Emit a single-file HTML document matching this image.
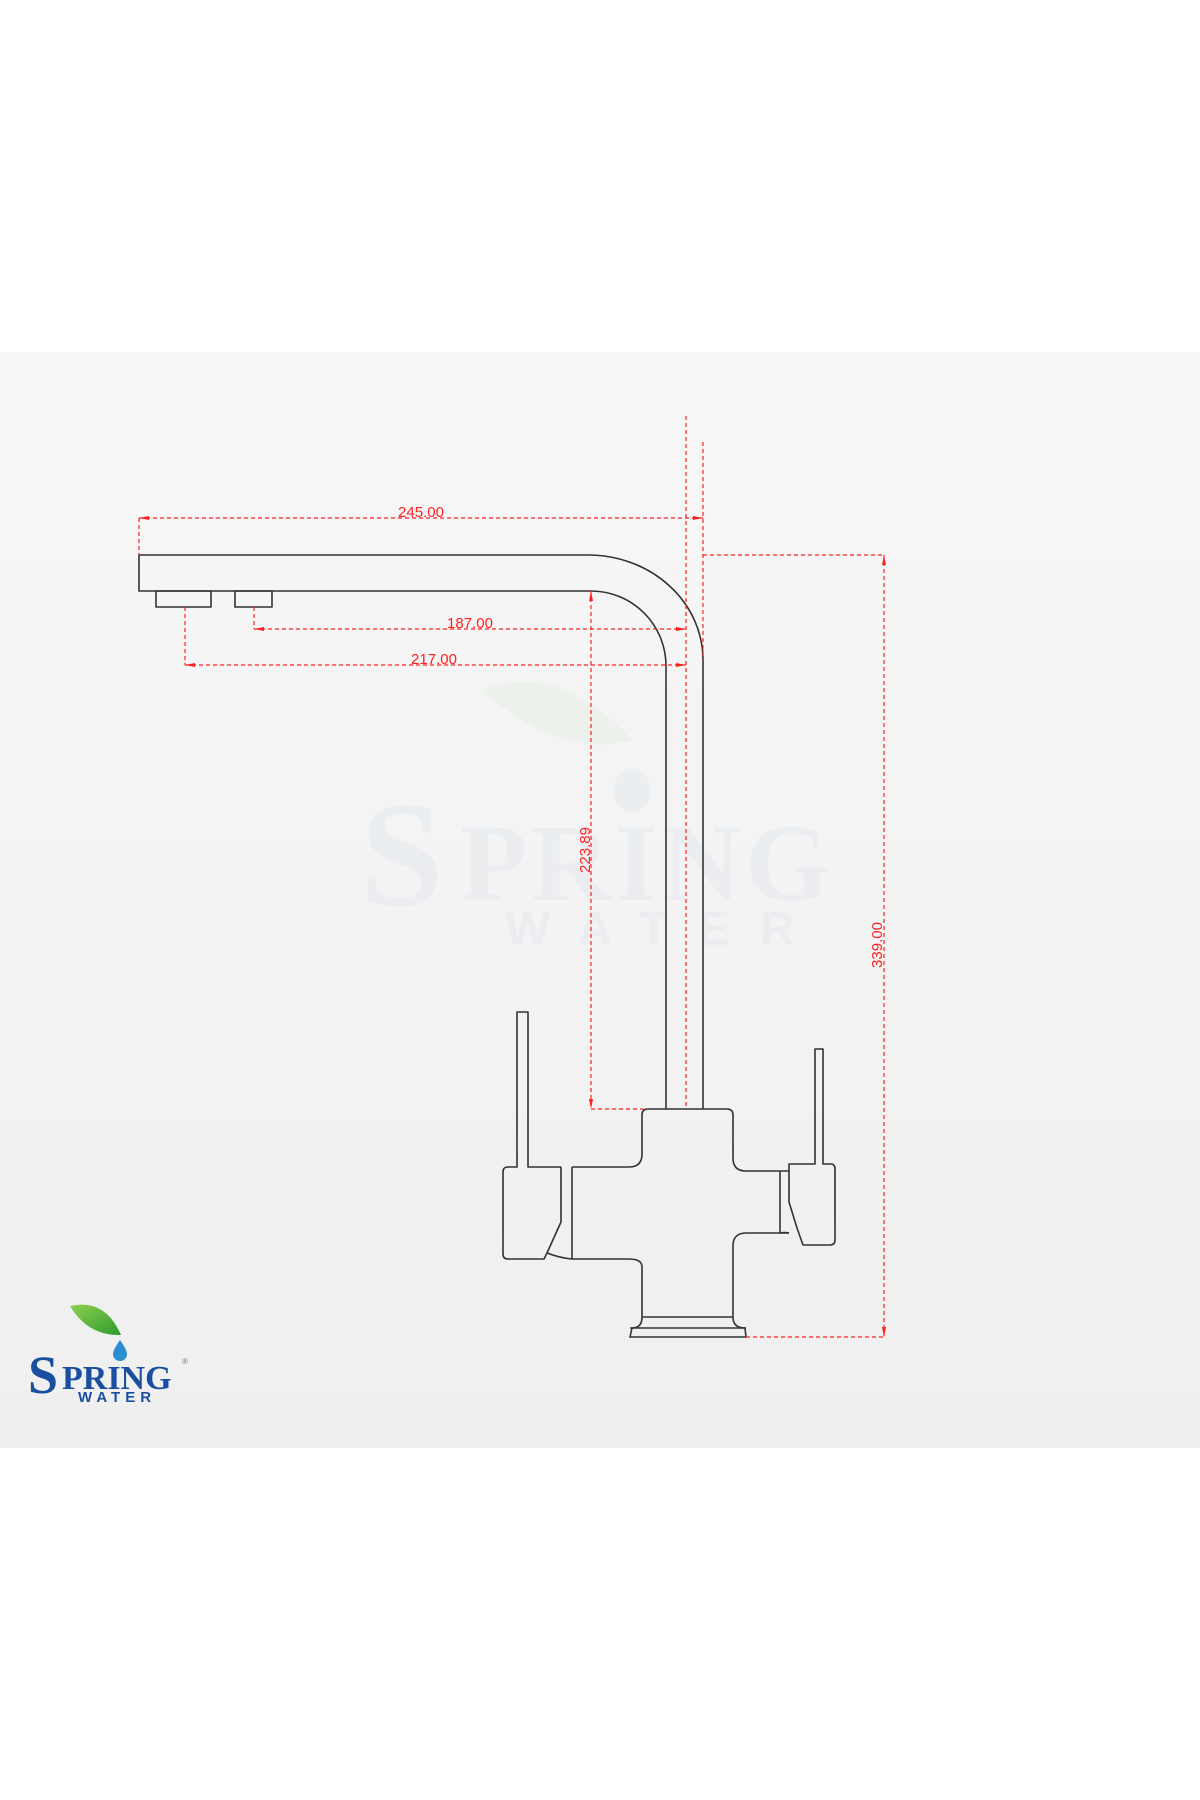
<!DOCTYPE html>
<html><head><meta charset="utf-8"><style>
html,body{margin:0;padding:0;background:#fff;}
svg{display:block;}
</style></head><body>
<svg width="1200" height="1800" viewBox="0 0 1200 1800" xmlns="http://www.w3.org/2000/svg">
<defs>
<linearGradient id="bg" x1="0" y1="0" x2="0" y2="1">
<stop offset="0" stop-color="#f7f7f7"/><stop offset="1" stop-color="#efefef"/>
</linearGradient>
<linearGradient id="leaf" x1="0" y1="0" x2="1" y2="1">
<stop offset="0" stop-color="#8fd14f"/><stop offset="1" stop-color="#2e9a2e"/>
</linearGradient>
</defs>
<rect x="0" y="352" width="1200" height="1096" fill="url(#bg)"/>

<!-- watermark -->
<g opacity="0.5">
<path d="M482 690 Q560 660 632 740 Q560 760 482 690Z" fill="#e6eee2"/>
<ellipse cx="632" cy="790" rx="18" ry="22" fill="#e3e9ef"/>
<text x="360" y="905" font-family="Liberation Serif,serif" font-weight="bold" font-size="150" fill="#e4e9ef">S</text>
<text x="460" y="900" font-family="Liberation Serif,serif" font-weight="bold" font-size="110" fill="#e4e9ef" letter-spacing="4">PRING</text>
<text x="505" y="945" font-family="Liberation Sans,sans-serif" font-weight="bold" font-size="48" fill="#e4e9ef" letter-spacing="30">WATER</text>
</g>

<!-- faucet -->
<g fill="none" stroke="#333" stroke-width="1.6" stroke-linejoin="round">
<path d="M588 555 L139 555 L139 591 L591 591"/>
<path d="M588 555 A115 105 0 0 1 703 660 L703 1109"/>
<path d="M591 591 A75 75 0 0 1 666 666 L666 1109"/>
<rect x="156" y="591" width="55" height="16"/>
<rect x="235" y="591" width="37" height="16"/>
<!-- body -->
<path d="M648 1109 L727 1109 Q733 1109 733 1115 L733 1158 Q733 1171 746 1171 L789 1171"/>
<path d="M789 1233 L746 1233 Q733 1233 733 1246 L733 1317"/>
<path d="M648 1109 Q642 1109 642 1115 L642 1154 Q642 1167 629 1167 L572 1167"/>
<path d="M572 1259 L629 1259 Q642 1259 642 1267 L642 1317"/>
<line x1="642" y1="1317" x2="733" y2="1317"/>
<path d="M642 1317 Q642 1328 632 1328 L630 1337 L746 1337 L745 1328 Q733 1328 733 1317"/>
<line x1="630" y1="1328" x2="746" y2="1328"/>
<!-- left handle -->
<line x1="572" y1="1167" x2="572" y2="1259"/>
<path d="M561 1167 L561 1222 L547 1253 L544 1259 L508 1259 Q503 1259 503 1254 L503 1172 Q503 1167 508 1167 L517 1167 L517 1012 L528 1012 L528 1167 L561 1167"/>
<path d="M547 1253 Q560 1258 572 1259"/>
<!-- right handle -->
<line x1="780" y1="1171" x2="780" y2="1233"/>
<path d="M789 1233 Q785 1232 780 1233"/>
<path d="M789 1164 L815 1164 L815 1049 L823 1049 L823 1164 L831 1164 Q835 1164 835 1169 L835 1240 Q835 1245 830 1245 L803 1245 L797 1228 L789 1202 Z"/>
</g>

<!-- dimensions -->
<g fill="none" stroke="#ff2020" stroke-width="1.2" stroke-dasharray="4,3">
<line x1="139" y1="518" x2="703" y2="518"/>
<line x1="139" y1="518" x2="139" y2="555"/>
<line x1="686" y1="416" x2="686" y2="1109"/>
<line x1="703" y1="442" x2="703" y2="660"/>
<line x1="254" y1="607" x2="254" y2="629"/>
<line x1="254" y1="629" x2="686" y2="629"/>
<line x1="185" y1="607" x2="185" y2="665"/>
<line x1="185" y1="665" x2="686" y2="665"/>
<line x1="591" y1="591" x2="591" y2="1109"/>
<line x1="591" y1="1109" x2="648" y2="1109"/>
<line x1="703" y1="555" x2="884" y2="555"/>
<line x1="884" y1="555" x2="884" y2="1337"/>
<line x1="746" y1="1337" x2="884" y2="1337"/>
</g>
<g fill="#ff2020">
<path d="M139 518 l10 -2 v4z"/><path d="M703 518 l-10 -2 v4z"/>
<path d="M254 629 l10 -2 v4z"/><path d="M686 629 l-10 -2 v4z"/>
<path d="M185 665 l10 -2 v4z"/><path d="M686 665 l-10 -2 v4z"/>
<path d="M591 591 l-2 10 h4z"/><path d="M591 1109 l-2 -10 h4z"/>
<path d="M884 555 l-2 10 h4z"/><path d="M884 1337 l-2 -10 h4z"/>
</g>
<g font-family="Liberation Sans Narrow,Liberation Sans,sans-serif" font-size="15" fill="#ff2020" text-anchor="middle">
<text x="421" y="517">245.00</text>
<text x="470" y="628">187.00</text>
<text x="434" y="664">217.00</text>
<text transform="translate(590 850) rotate(-90)">223.89</text>
<text transform="translate(882 945) rotate(-90)">339.00</text>
</g>

<!-- logo -->
<path d="M70 1306 Q105 1298 121 1335 Q88 1336 70 1306Z" fill="url(#leaf)"/>
<path d="M120 1340 Q113 1350 113 1354 a7 7 0 0 0 14 0 Q127 1350 120 1340Z" fill="#2a8fd0"/>
<text x="28" y="1393" font-family="Liberation Serif,serif" font-weight="bold" font-size="54" fill="#1a4fa0">S</text>
<text x="62" y="1389" font-family="Liberation Serif,serif" font-weight="bold" font-size="34" fill="#1a4fa0">PRING</text>
<text x="78" y="1402" font-family="Liberation Sans,sans-serif" font-weight="bold" font-size="15" fill="#1a4fa0" letter-spacing="5">WATER</text>
<text x="182" y="1364" font-family="Liberation Sans,sans-serif" font-size="8" fill="#777">®</text>
</svg>
</body></html>
